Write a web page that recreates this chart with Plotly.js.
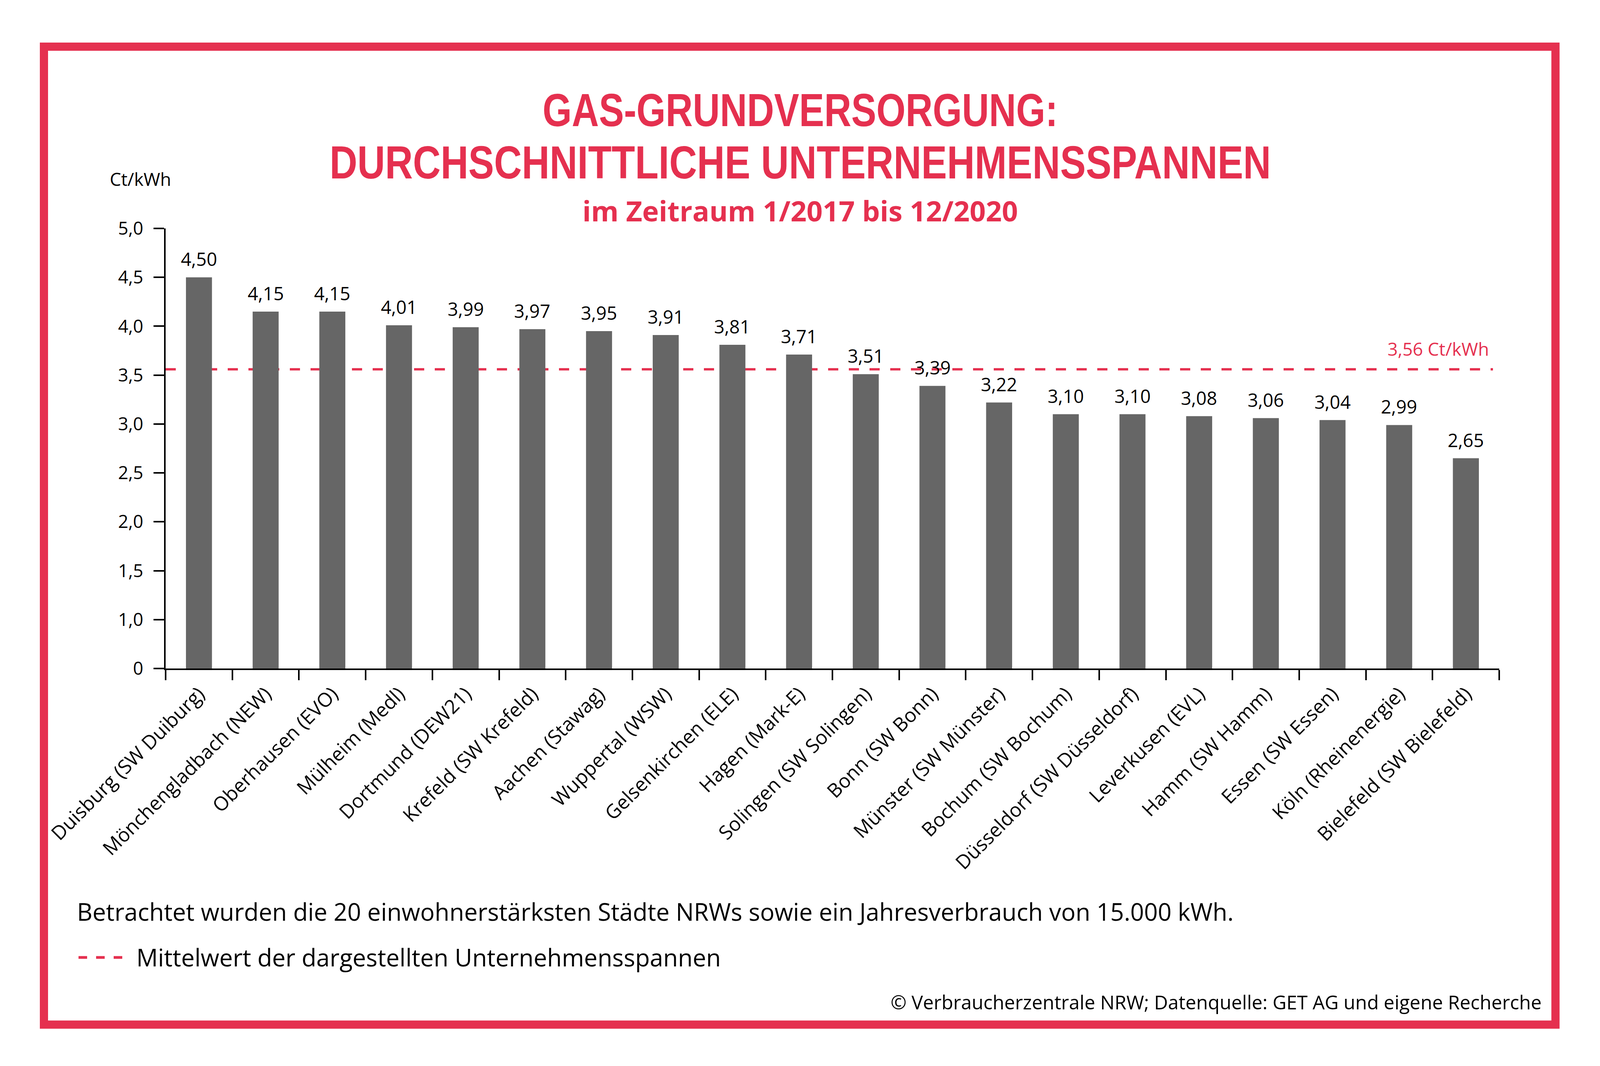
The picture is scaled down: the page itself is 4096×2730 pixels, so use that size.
<!DOCTYPE html>
<html>
<head>
<meta charset="utf-8">
<script src="https://cdn.plot.ly/plotly-3.0.1.min.js"></script>
<style>
  html, body { margin: 0; padding: 0; background: #ffffff; overflow: hidden; }
  #chart { width: 4096px; height: 2730px; }
</style>
</head>
<body>
<div id="chart"></div>
<script>
// ---- data ----
const categories = [
  "Duisburg (SW Duiburg)", "Mönchengladbach (NEW)", "Oberhausen (EVO)", "Mülheim (Medl)",
  "Dortmund (DEW21)", "Krefeld (SW Krefeld)", "Aachen (Stawag)", "Wuppertal (WSW)",
  "Gelsenkirchen (ELE)", "Hagen (Mark-E)", "Solingen (SW Solingen)", "Bonn (SW Bonn)",
  "Münster (SW Münster)", "Bochum (SW Bochum)", "Düsseldorf (SW Düsseldorf)", "Leverkusen (EVL)",
  "Hamm (SW Hamm)", "Essen (SW Essen)", "Köln (Rheinenergie)", "Bielefeld (SW Bielefeld)"
];
const values = [4.50, 4.15, 4.15, 4.01, 3.99, 3.97, 3.95, 3.91, 3.81, 3.71,
                3.51, 3.39, 3.22, 3.10, 3.10, 3.08, 3.06, 3.04, 2.99, 2.65];
const meanValue = 3.56;
const yTickVals = [0.5, 1.0, 1.5, 2.0, 2.5, 3.0, 3.5, 4.0, 4.5, 5.0];
const yTickText = ["0", "1,0", "1,5", "2,0", "2,5", "3,0", "3,5", "4,0", "4,5", "5,0"];

const titleLine1 = "GAS-GRUNDVERSORGUNG:";
const titleLine2 = "DURCHSCHNITTLICHE UNTERNEHMENSSPANNEN";
const subtitle = "im Zeitraum 1/2017 bis 12/2020";
const unitLabel = "Ct/kWh";
const meanLabel = "3,56 Ct/kWh";
const noteText = "Betrachtet wurden die 20 einwohnerstärksten Städte NRWs sowie ein Jahresverbrauch von 15.000 kWh.";
const legendText = "Mittelwert der dargestellten Unternehmensspannen";
const sourceText = "© Verbraucherzentrale NRW; Datenquelle: GET AG und eigene Recherche";

// ---- layout geometry (pixels) ----
const PW = 4096, PH = 2730;
const L = 424, R = 3838, T = 585, B = 1712;
const W = R - L, H = B - T;
const px = v => (v - L) / W;
const py = v => (B - v) / H;

const RED = "#E5304F";
const BODY = "Open Sans, Lato, sans-serif";
const TITLEF = "Liberation Sans, Arial, sans-serif";
// condensed title widths (px) as in the reference
const titleWidths = {};
titleWidths[titleLine1] = 1319;
titleWidths[titleLine2] = 2410;

const fmt = v => v.toFixed(2).replace(".", ",");

const trace = {
  type: "bar",
  x: categories,
  y: values,
  marker: { color: "#666666", line: { width: 0 } },
  hoverinfo: "none"
};

const annotations = [];
categories.forEach((c, i) => {
  annotations.push({
    x: c, y: values[i], xref: "x", yref: "y",
    text: fmt(values[i]), showarrow: false,
    xanchor: "center", yanchor: "bottom", yshift: 13,
    font: { family: BODY, size: 47, color: "#000000" }
  });
});
annotations.push(
  { xref: "paper", yref: "paper", x: px(2048), y: py(282), xanchor: "center", yanchor: "middle",
    text: titleLine1, showarrow: false,
    font: { family: TITLEF, size: 119, weight: 700, color: RED } },
  { xref: "paper", yref: "paper", x: px(2048), y: py(416), xanchor: "center", yanchor: "middle",
    text: titleLine2, showarrow: false,
    font: { family: TITLEF, size: 119, weight: 700, color: RED } },
  { xref: "paper", yref: "paper", x: px(2048), y: py(539), xanchor: "center", yanchor: "middle",
    text: subtitle, showarrow: false,
    font: { family: BODY, size: 72, weight: 700, color: RED } },
  { xref: "paper", yref: "paper", x: px(279), y: py(458), xanchor: "left", yanchor: "middle",
    text: unitLabel, showarrow: false,
    font: { family: BODY, size: 46, color: "#000000" } },
  { xref: "paper", yref: "y", x: px(3814), y: meanValue, yshift: 53, xanchor: "right", yanchor: "middle",
    text: meanLabel, showarrow: false,
    font: { family: BODY, size: 46, color: RED } },
  { xref: "paper", yref: "paper", x: px(195), y: py(2334), xanchor: "left", yanchor: "middle",
    text: noteText, showarrow: false,
    font: { family: BODY, size: 61.5, color: "#000000" } },
  { xref: "paper", yref: "paper", x: px(347), y: py(2451), xanchor: "left", yanchor: "middle",
    text: legendText, showarrow: false,
    font: { family: BODY, size: 61.5, color: "#000000" } },
  { xref: "paper", yref: "paper", x: px(3949), y: py(2566), xanchor: "right", yanchor: "middle",
    text: sourceText, showarrow: false,
    font: { family: BODY, size: 49, color: "#000000" } }
);

const shapes = [
  // outer frame
  { type: "rect", xref: "paper", yref: "paper",
    x0: px(112.5), x1: px(3982), y0: py(2624), y1: py(119.5),
    line: { color: RED, width: 21 }, fillcolor: "rgba(0,0,0,0)", layer: "above" },
  // mean line
  { type: "line", xref: "paper", yref: "y", x0: 0, x1: px(3822), y0: meanValue, y1: meanValue,
    line: { color: RED, width: 6, dash: "26px,27px" }, layer: "below" },
  // legend sample
  { type: "line", xref: "paper", yref: "paper", x0: px(201), x1: px(313), y0: py(2452), y1: py(2452),
    line: { color: RED, width: 7, dash: "22px,23px" }, layer: "above" }
];

const layout = {
  width: PW, height: PH,
  margin: { l: L, r: PW - R, t: T, b: PH - B, pad: 0 },
  paper_bgcolor: "#ffffff", plot_bgcolor: "#ffffff",
  showlegend: false,
  bargap: 0.61,
  xaxis: {
    type: "category", range: [-0.5, 19.5],
    tickson: "boundaries", ticks: "outside", ticklen: 26, tickwidth: 4, tickcolor: "#000000",
    showline: true, linewidth: 4, linecolor: "#000000",
    showgrid: false, zeroline: false,
    tickangle: -45,
    ticklabelstandoff: 12,
    tickfont: { family: BODY, size: 50, color: "#000000" },
    fixedrange: true
  },
  yaxis: {
    range: [0.5, 5.0],
    tickmode: "array", tickvals: yTickVals, ticktext: yTickText,
    ticks: "outside", ticklen: 27, tickwidth: 4, tickcolor: "#000000",
    showline: true, linewidth: 4, linecolor: "#000000",
    showgrid: false, zeroline: false,
    ticklabelstandoff: 17,
    tickfont: { family: BODY, size: 46, color: "#000000" },
    fixedrange: true
  },
  annotations: annotations,
  shapes: shapes
};

Plotly.newPlot("chart", [trace], layout, { staticPlot: true, displayModeBar: false }).then(gd => {
  // condense the two title lines to the reference's widths
  gd.querySelectorAll("text.annotation-text").forEach(t => {
    const w = titleWidths[t.textContent];
    if (w) {
      t.setAttribute("textLength", w);
      t.setAttribute("lengthAdjust", "spacingAndGlyphs");
    }
  });
});
</script>
</body>
</html>
